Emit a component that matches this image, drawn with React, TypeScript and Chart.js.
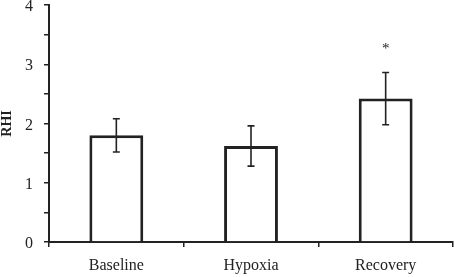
import React, { useEffect, useRef } from "react";
import { Chart, registerables } from "chart.js";

Chart.register(...registerables);

const categories = ["Baseline", "Hypoxia", "Recovery"];
const meanValues = [1.8, 1.62, 2.42];
const errorValues = [0.28, 0.34, 0.44];
const significance = ["", "", "*"];
const yTickValues = [0, 1, 2, 3, 4];

const INK = "#222";
const FONT = "'Liberation Serif', 'Times New Roman', serif";

const errorBarPlugin = {
  id: "errorBars",
  afterDatasetsDraw(chart: any) {
    const ctx = chart.ctx;
    const x = chart.scales.x;
    const y = chart.scales.y;
    ctx.save();
    ctx.strokeStyle = INK;
    ctx.lineWidth = 1.6;
    meanValues.forEach((m, i) => {
      const e = errorValues[i];
      const px = x.getPixelForValue(i);
      const top = y.getPixelForValue(m + e);
      const bot = y.getPixelForValue(m - e);
      const cap = 3.5;
      ctx.beginPath();
      ctx.moveTo(px, top);
      ctx.lineTo(px, bot);
      ctx.moveTo(px - cap, top);
      ctx.lineTo(px + cap, top);
      ctx.moveTo(px - cap, bot);
      ctx.lineTo(px + cap, bot);
      ctx.stroke();
      if (significance[i]) {
        ctx.fillStyle = INK;
        ctx.font = `15px ${FONT}`;
        ctx.textAlign = "center";
        ctx.textBaseline = "middle";
        ctx.fillText(significance[i], px, top - 23);
      }
    });
    ctx.restore();
  },
};

export default function App() {
  const ref = useRef<HTMLCanvasElement>(null);
  useEffect(() => {
    if (!ref.current) return;
    const chart = new Chart(ref.current, {
      type: "bar",
      data: {
        labels: categories,
        datasets: [
          {
            data: meanValues,
            backgroundColor: "#ffffff",
            borderColor: INK,
            borderWidth: 3,
            barPercentage: 0.4,
            categoryPercentage: 1,
          },
        ],
      },
      options: {
        animation: false,
        responsive: false,
        maintainAspectRatio: false,
        layout: { padding: { top: 5, right: 1, left: 0, bottom: 0 } },
        plugins: { legend: { display: false }, tooltip: { enabled: false } },
        scales: {
          x: {
            offset: true,
            grid: {
              offset: true,
              drawOnChartArea: false,
              drawTicks: true,
              tickLength: 5,
              color: INK,
              lineWidth: 1.5,
            },
            border: { display: true, color: INK, width: 2 },
            ticks: {
              color: INK,
              font: { family: FONT, size: 16 },
              padding: 9,
              maxRotation: 0,
            },
            afterFit(scale: any) {
              scale.height = 35;
              scale.paddingLeft = 0;
              scale.paddingRight = 0;
            },
          },
          y: {
            min: 0,
            max: 4,
            ticks: {
              stepSize: 0.5,
              autoSkip: false,
              color: INK,
              font: { family: FONT, size: 16 },
              padding: 11,
              labelOffset: 2,
              callback: (v: any) => (yTickValues.includes(Number(v)) ? String(v) : ""),
            },
            grid: {
              drawOnChartArea: false,
              drawTicks: true,
              tickLength: 5,
              color: INK,
              lineWidth: 1.5,
            },
            border: { display: true, color: INK, width: 2 },
            title: {
              display: true,
              text: "RHI",
              color: INK,
              font: { family: FONT, size: 14, weight: "bold", lineHeight: 1.1 },
              padding: 0,
            },
            afterFit(scale: any) {
              scale.width = 49;
              scale.paddingTop = 0;
              scale.paddingBottom = 0;
            },
          },
        },
      },
      plugins: [errorBarPlugin],
    });
    return () => chart.destroy();
  }, []);
  return (
    <div style={{ position: "fixed", left: 0, top: 0, width: 454, height: 277, background: "#fff" }}>
      <canvas ref={ref} width={454} height={277} style={{ display: "block" }} />
    </div>
  );
}
